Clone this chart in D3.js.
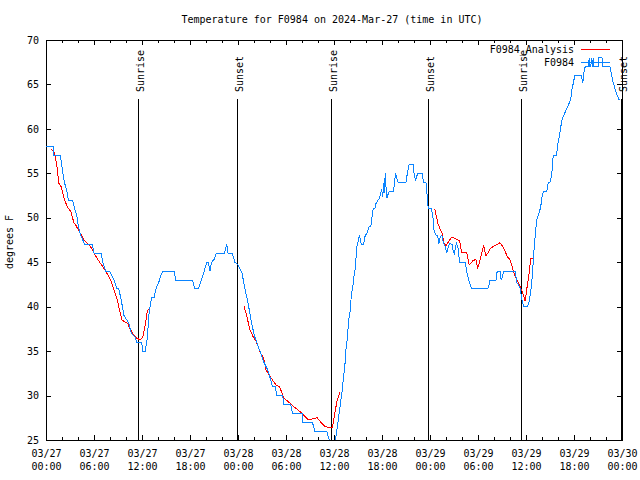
<!DOCTYPE html>
<html>
<head>
<meta charset="utf-8">
<script src="https://cdn.jsdelivr.net/npm/d3@7"></script>
<style>
  html, body { margin: 0; padding: 0; background: #fff; }
  svg { display: block; }
  text { font-family: "DejaVu Sans Mono", "Liberation Mono", monospace; font-size: 10px; fill: #000; }
</style>
</head>
<body>
<svg id="chart" width="640" height="480"></svg>
<script>
// ---------- data (hours after 2024-03-27 00:00 UTC) ----------
const titleText = "Temperature for F0984 on 2024-Mar-27 (time in UTC)";
const yLabelText = "degrees F";
const seriesNames = ["F0984_Analysis", "F0984"];

const obsHours = [0,0.9,1.0,1.8,2.05,2.3,2.6,2.8,3.3,3.6,3.9,4.05,4.35,4.85,5.8,6.0,6.9,7.1,7.45,7.95,8.5,8.85,9.1,9.4,9.75,10.1,10.4,10.67,11.2,11.3,11.95,12.1,12.4,12.67,12.9,13.2,13.5,13.75,14.2,14.3,14.6,16.05,16.2,18.3,18.6,19.05,19.4,19.7,20.1,20.3,20.5,20.7,21.0,21.3,22.3,22.6,22.75,23.3,23.6,24.0,24.5,24.9,25.3,25.7,26.1,26.7,27.2,27.7,28.1,28.3,28.7,28.8,29.6,29.7,30.6,30.8,32.0,32.1,33.3,33.6,35.1,35.4,35.7,36.1,36.25,37.0,37.4,37.5,37.7,37.8,38.0,38.1,38.25,38.4,38.5,38.7,38.75,38.8,39.0,39.1,39.2,39.4,39.7,39.9,40.1,40.4,40.6,40.7,40.8,40.9,41.1,41.25,41.5,41.7,41.8,41.96,42.1,42.2,42.3,42.4,42.5,42.6,42.8,42.9,43.4,43.5,43.7,43.8,44.0,45.0,45.2,45.4,45.9,46.0,46.2,46.3,46.5,47.0,47.2,47.5,47.6,47.7,47.8,48.2,48.4,48.5,48.75,48.96,49.1,49.3,49.5,49.7,49.9,50.1,50.3,50.5,50.8,50.9,51.04,51.3,51.5,51.7,52.4,52.6,52.9,53.2,55.2,55.4,55.5,56.25,56.4,56.75,56.9,57.1,57.2,58.7,58.8,59.1,59.25,59.4,59.5,59.7,60.2,60.4,60.6,60.8,61.0,61.25,61.4,61.7,61.9,62.04,62.2,62.6,62.8,63.0,63.2,63.3,63.4,63.8,64.0,64.2,64.3,64.5,64.75,65.0,65.2,65.4,65.6,65.7,65.9,66.1,66.9,67.1,67.25,67.4,67.8,67.9,68.0,68.1,68.2,68.3,68.4,68.5,69.0,69.1,69.5,69.6,70.5,70.7,70.9,71.1,71.3,71.65];
const obsTemps = [58,58,57,57,55.4,54,53,52,52,51,50,49,48,47,47,46,46,45,44,44,43,42,42,40.75,39,38.5,38,37,36.5,36,36,35,35,36.5,39.5,41,41,42,43,43.4,44,44,43,43,42,42,43,43.75,45,45,44,45,45.3,46,46,47,46,46,45,44.7,43.75,41.9,40.2,38.1,36.6,35.1,33.8,32.9,31.75,31,31,30,30,29,29,28,28,27,27,26,26,25,24,24,25.4,30.4,33.8,35.2,36.6,38.3,39.4,40.6,41.7,42.6,43.4,44.5,45.4,46.45,47.3,47.7,48,47,47,48,48.2,49,49,49.6,50.5,51,51,51.6,52,52.2,52.75,53.1,52.4,53.9,52.8,55,53.5,52.2,52.75,53,53,53.5,55,54.6,54,54,55.2,56,56,55,54.2,54.6,55,55,54,53.9,53.1,51.6,51,51,49.8,48.6,48.06,48,47.1,47.9,48,47.1,46.75,46,46.8,47.1,47,46.2,46,47.1,46.6,45,45,43.9,42.8,42,42,42.5,43,43,44,44,43,43.5,44,44,42.8,42.4,42.06,41.3,40.75,40,40,40.6,41.7,43.6,46.4,49,50,50.7,51.6,52.6,53,53,54,54,54.8,55.75,57,57,58.4,59.3,60,61,61.6,62.1,62.5,62.9,63.4,64.2,65.1,66,66,65.2,66.4,67,67,68,67,67,68,67,68,67,67,68,68,67,67,66,65.2,64.6,64,63.25];

// analysis series, null = gap
const anaHours = [0.67,1.1,1.35,1.6,1.9,2.25,2.65,3.1,3.5,3.7,4.3,4.75,5.6,6.4,7.25,8.1,8.9,9.5,10.2,10.8,11.4,11.8,12.1,12.4,12.67,12.9,
  13.0,
  24.75,25.1,25.5,25.9,26.3,26.75,27.2,27.5,28.2,28.75,29.2,29.5,29.75,30.3,30.9,31.75,32.8,33.4,33.9,34.3,34.9,35.4,35.8,36.1,36.4,36.75,
  37.0,
  48.6,49.0,49.5,49.75,50.0,50.3,50.7,51.1,51.7,51.96,52.6,52.9,53.4,53.75,53.96,54.25,54.7,55.0,55.6,55.9,56.75,57.1,57.7,58.0,58.4,58.7,59.2,59.6,59.9,60.1,60.3,60.6,60.9];
const anaTemps = [57.7,57.25,55.9,53.9,53.5,52.2,51.25,50.7,49.4,49.2,48.25,47.5,46.7,45.4,44.3,43.0,40.75,38.5,38.1,37.0,36.4,36.3,36.6,37.9,39.6,39.7,
  null,
  40.1,38.9,37.4,36.6,36.05,34.9,34.2,32.9,31.9,31.2,31.0,30.25,29.7,29.3,28.8,28.2,27.25,27.4,27.5,27.06,26.5,26.4,26.4,28.0,29.5,30.4,
  null,
  51,49.3,48.25,47.2,46.8,47.3,47.8,47.7,47.4,46.1,46.1,44.7,45.2,45.3,44.3,45.25,46.9,45.7,46.6,46.75,47.2,46.75,45.6,45.3,44.1,43.3,42.4,41.5,40.6,42,43.1,45.4,45.4];

// sun events (hours after start)
const sunHours = [11.54, 23.84, 35.6, 47.8, 59.4, 71.82];
const sunLabels = ["Sunrise", "Sunset", "Sunrise", "Sunset", "Sunrise", "Sunset"];

const yTickValues = [25, 30, 35, 40, 45, 50, 55, 60, 65, 70];
const yDomain = [25, 70];
const spanHours = 72;

// ---------- layout ----------
const L = 46, R = 622, T = 40, B = 440;
const t0 = Date.UTC(2024, 2, 27, 0, 0, 0);
const toDate = h => new Date(t0 + h * 3600e3);

const svg = d3.select("#chart");
const x = d3.scaleUtc().domain([toDate(0), toDate(spanHours)]).range([L, R]);
const y = d3.scaleLinear().domain(yDomain).range([B, T]);

// title
svg.append("text").attr("x", 332).attr("y", 23).attr("text-anchor", "middle").text(titleText);

// y label
svg.append("text").attr("transform", "translate(13,242) rotate(-90)")
  .attr("text-anchor", "middle").text(yLabelText);

// clip
svg.append("clipPath").attr("id", "plotclip").append("rect")
  .attr("x", L).attr("y", T).attr("width", R - L).attr("height", B - T);

// axes
const majorX = d3.utcHour.every(6).range(toDate(0), toDate(spanHours + 0.01));
const minorX = d3.utcHour.every(2).range(toDate(0), toDate(spanHours + 0.01)).filter(d => d.getUTCHours() % 6 !== 0);

function styleAxis(g) {
  g.select(".domain").remove();
  g.selectAll("line").attr("stroke", "#000").attr("shape-rendering", "crispEdges");
}

// bottom major with labels
const gB = svg.append("g").attr("transform", `translate(0,${B})`)
  .call(d3.axisBottom(x).tickValues(majorX).tickSize(-5).tickSizeOuter(0).tickFormat(d3.utcFormat("%m/%d")))
  .call(styleAxis);
const fmtTime = d3.utcFormat("%H:%M");
gB.selectAll(".tick text").each(function(d) {
  const t = d3.select(this);
  const top = t.text();
  t.text(null).attr("y", 0).attr("dy", null).attr("font-size", 10).attr("font-family", null);
  t.append("tspan").attr("x", 0).attr("y", 16.5).text(top);
  t.append("tspan").attr("x", 0).attr("y", 30).text(fmtTime(d));
});
svg.append("g").attr("transform", `translate(0,${B})`)
  .call(d3.axisBottom(x).tickValues(minorX).tickSize(-3).tickSizeOuter(0).tickFormat(""))
  .call(styleAxis);
// top mirror
svg.append("g").attr("transform", `translate(0,${T})`)
  .call(d3.axisTop(x).tickValues(majorX).tickSize(-5).tickSizeOuter(0).tickFormat(""))
  .call(styleAxis);
svg.append("g").attr("transform", `translate(0,${T})`)
  .call(d3.axisTop(x).tickValues(minorX).tickSize(-3).tickSizeOuter(0).tickFormat(""))
  .call(styleAxis);
// left
const gL = svg.append("g").attr("transform", `translate(${L},0)`)
  .call(d3.axisLeft(y).tickValues(yTickValues).tickSize(-5).tickSizeOuter(0).tickPadding(7))
  .call(styleAxis);
gL.selectAll(".tick text").attr("font-size", 10).attr("font-family", null);
// right mirror
svg.append("g").attr("transform", `translate(${R},0)`)
  .call(d3.axisRight(y).tickValues(yTickValues).tickSize(-5).tickSizeOuter(0).tickFormat(""))
  .call(styleAxis);

// frame
svg.append("rect").attr("x", L + 0.5).attr("y", T + 0.5).attr("width", R - L).attr("height", B - T)
  .attr("fill", "none").attr("stroke", "#000").attr("shape-rendering", "crispEdges");

// sun lines
const sunG = svg.append("g");
sunHours.forEach((h, i) => {
  const sx = Math.round(x(toDate(h))) + 0.5;
  sunG.append("line").attr("x1", sx).attr("x2", sx).attr("y1", 99).attr("y2", B)
    .attr("stroke", "#000").attr("shape-rendering", "crispEdges");
  sunG.append("text").attr("transform", `translate(${sx + 5.5},92) rotate(-90)`)
    .attr("text-anchor", "start").text(sunLabels[i]);
});

// series
const plot = svg.append("g").attr("clip-path", "url(#plotclip)");
const anaData = anaHours.map((h, i) => ({ h, t: anaTemps[i] }));
const obsData = obsHours.map((h, i) => ({ h, t: obsTemps[i] }));
const line = d3.line().defined(d => d.t != null).x(d => x(toDate(d.h))).y(d => y(d.t));

plot.append("path").datum(anaData).attr("d", line)
  .attr("fill", "none").attr("stroke", "#ff0000").attr("stroke-width", 1).attr("shape-rendering", "crispEdges");
plot.append("path").datum(obsData).attr("d", line)
  .attr("fill", "none").attr("stroke", "#0a84ff").attr("stroke-width", 1).attr("shape-rendering", "crispEdges");

// legend
const legColors = ["#ff0000", "#0a84ff"];
const legY = [49, 62];
seriesNames.forEach((name, i) => {
  svg.append("text").attr("x", 574).attr("y", legY[i] + 4).attr("text-anchor", "end").text(name);
  svg.append("line").attr("x1", 581).attr("x2", 610).attr("y1", legY[i] + 0.5).attr("y2", legY[i] + 0.5)
    .attr("stroke", legColors[i]).attr("shape-rendering", "crispEdges");
});
</script>
</body>
</html>
